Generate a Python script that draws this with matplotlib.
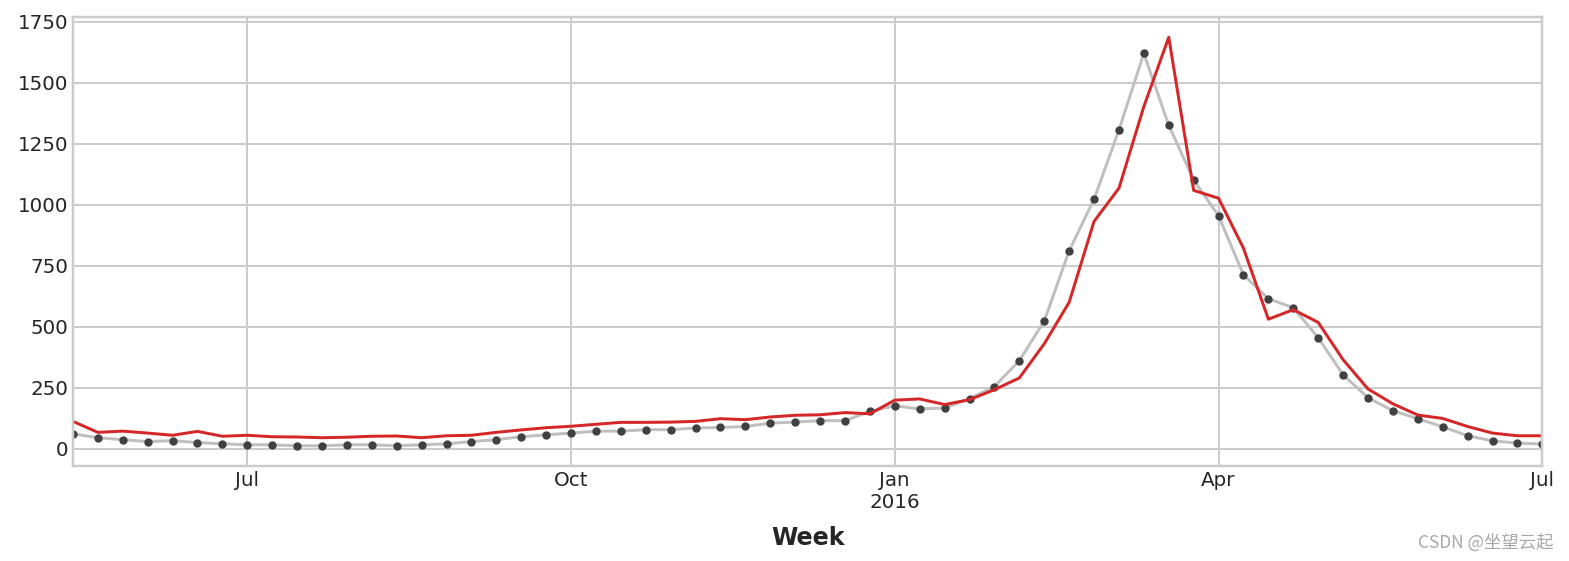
import pandas as pd
import matplotlib
matplotlib.use("Agg")
import matplotlib.pyplot as plt

# weekly flu visits: observed vs predicted
start_week = "2015-05-11"
flu_actual = [61, 45, 37, 29, 33, 25, 20, 16, 16, 12,
              12, 16, 16, 12, 16, 20, 29, 37, 49, 57,
              64, 72, 72, 78, 78, 85, 87, 91, 105, 109,
              115, 115, 153, 176, 163, 167, 205, 255, 361, 523,
              811, 1023, 1307, 1621, 1326, 1102, 955, 713, 615, 578,
              455, 303, 209, 156, 123, 90, 53, 32, 23, 19]
flu_pred = [112, 67, 72, 64, 55, 71, 51, 55, 49, 48,
            45, 47, 51, 52, 45, 53, 55, 67, 77, 86,
            92, 100, 108, 108, 109, 112, 123, 119, 130, 137,
            139, 148, 143, 199, 204, 181, 201, 242, 290, 430,
            600, 932, 1068, 1403, 1687, 1059, 1027, 822, 531, 570,
            518, 365, 245, 184, 138, 124, 91, 64, 53, 53]

s = 1.43  # original was saved at ~143 dpi

plt.style.use("seaborn-v0_8-whitegrid")
plt.rc("font", family="DejaVu Sans")
plt.rc("axes", labelweight="bold", labelsize=12 * s, linewidth=1.25 * s, edgecolor=".8")
plt.rc("grid", linewidth=1 * s)
plt.rc("xtick", labelsize=10 * s)
plt.rc("ytick", labelsize=10 * s)
plt.rc("lines", linewidth=1.5 * s)

weeks = pd.period_range(start_week, periods=len(flu_actual), freq="W")
weeks.name = "Week"
y_test = pd.Series(flu_actual, index=weeks)
y_pred = pd.Series(flu_pred, index=weeks)

fig, ax = plt.subplots(figsize=(15.69, 5.61), dpi=100)
y_test.plot(ax=ax, color="0.75", style=".-", markeredgecolor="0.25",
            markerfacecolor="0.25", markersize=7 * s, legend=False)
y_pred.plot(ax=ax, color="C3")
ax.set_xlabel("Week", labelpad=10)

fig.subplots_adjust(left=0.0465, right=0.983, top=0.97, bottom=0.169)

fig.text(0.99, 0.032, "CSDN @坐望云起", ha="right", va="center", color="#a8a8a8",
         fontsize=12.5, family=["Noto Sans CJK SC", "DejaVu Sans"])

fig.savefig("out.png", dpi=100)
